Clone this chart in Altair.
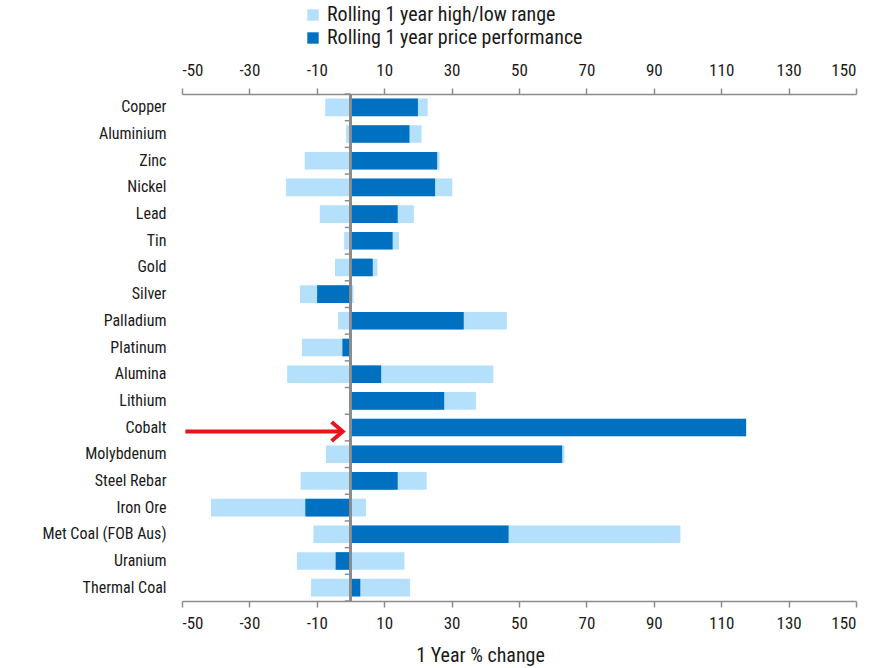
import altair as alt
import pandas as pd

commodities = ["Copper", "Aluminium", "Zinc", "Nickel", "Lead", "Tin", "Gold", "Silver",
               "Palladium", "Platinum", "Alumina", "Lithium", "Cobalt", "Molybdenum",
               "Steel Rebar", "Iron Ore", "Met Coal (FOB Aus)", "Uranium", "Thermal Coal"]
range_low = [-7.5, -1.3, -13.6, -19.1, -9.1, -1.9, -4.6, -15.0, -3.7, -14.4,
             -18.8, 0.0, 0.0, -7.3, -14.8, -41.4, -11.0, -15.9, -11.7]
range_high = [22.9, 21.1, 26.4, 30.2, 18.8, 14.4, 8.0, 0.9, 46.4, 0.0,
              42.4, 37.2, 117.4, 63.5, 22.6, 4.6, 97.9, 16.0, 17.7]
performance = [20.0, 17.5, 25.7, 25.1, 14.0, 12.5, 6.6, -9.9, 33.6, -2.4,
               9.1, 27.8, 117.4, 62.8, 14.0, -13.4, 46.9, -4.4, 2.9]
x_ticks = [-50, -30, -10, 10, 30, 50, 70, 90, 110, 130, 150]
series = ["Rolling 1 year high/low range", "Rolling 1 year price performance"]
colors = ["#B4E0FC", "#0070C0"]

FONT = "Liberation Sans Narrow, Roboto Condensed, Arial Narrow, sans-serif"

df = pd.DataFrame({
    "commodity": commodities,
    "low": range_low,
    "high": range_high,
    "perf": performance,
    "zero": [0.0] * len(commodities),
})
df_range = df.assign(series=series[0])
df_perf = df.assign(series=series[1])

xscale = alt.Scale(domain=[-50, 150], nice=False, zero=False)
yscale = alt.Scale(domain=commodities, paddingInner=0, paddingOuter=0)
cscale = alt.Scale(domain=series, range=colors)

axis_common = dict(values=x_ticks, grid=False, domainColor="#8c8c8c", tickColor="#8c8c8c",
                   tickSize=6, labelFont=FONT, labelFontSize=17, labelColor="#1a1a1a",
                   domainWidth=1.5, tickWidth=1.5,
                   labelExpr="toString(datum.value)")

legend = alt.Legend(title=None, orient="none", legendX=121, legendY=-89,
                    symbolType="square", symbolSize=130, symbolStrokeWidth=0,
                    labelFont=FONT, labelFontSize=20, labelColor="#1a1a1a",
                    labelOffset=4, rowPadding=3, padding=0, labelLimit=500)

light = alt.Chart(df_range).mark_bar(height=alt.RelativeBandSize(0.66)).encode(
    y=alt.Y("commodity:N", sort=commodities, scale=yscale, title=None,
            axis=alt.Axis(domain=False, ticks=False, labelFont=FONT, labelFontSize=16,
                          labelColor="#1a1a1a", labelPadding=16, labelLimit=300)),
    x=alt.X("low:Q", scale=xscale,
            axis=alt.Axis(orient="bottom", title="1 Year % change", titleFont=FONT,
                          titleFontSize=20, titleFontWeight="normal", titleColor="#1a1a1a",
                          titleX=298, titleY=44, labelPadding=8, **axis_common)),
    x2="high:Q",
    color=alt.Color("series:N", scale=cscale, legend=legend),
)

dark = alt.Chart(df_perf).mark_bar(height=alt.RelativeBandSize(0.66)).encode(
    y=alt.Y("commodity:N", sort=commodities, scale=yscale, axis=None),
    x=alt.X("zero:Q", scale=xscale,
            axis=alt.Axis(orient="top", title=None, labelPadding=9, **axis_common)),
    x2="perf:Q",
    color=alt.Color("series:N", scale=cscale, legend=legend),
)

zero_line = alt.Chart(df).mark_rule(color="#8c8c8c", strokeWidth=1.5).encode(
    x=alt.X("zero:Q", scale=xscale, axis=None),
)

cat_ticks = alt.Chart(df).transform_calculate(tick_start="-1.7").mark_rule(
    color="#8c8c8c", strokeWidth=1.5).encode(
    y=alt.Y("commodity:N", sort=commodities, scale=yscale, axis=None, bandPosition=0),
    x=alt.X("tick_start:Q", scale=xscale, axis=None),
    x2="zero:Q",
)

last_tick = alt.Chart(df).transform_filter(
    alt.datum.commodity == commodities[-1]
).transform_calculate(tick_start="-1.7").mark_rule(
    color="#8c8c8c", strokeWidth=1.5).encode(
    y=alt.Y("commodity:N", sort=commodities, scale=yscale, axis=None, bandPosition=1),
    x=alt.X("tick_start:Q", scale=xscale, axis=None),
    x2="zero:Q",
)

df_arrow = pd.DataFrame({"commodity": ["Cobalt"], "start": [-49.0], "end": [-3.0], "tip": [-2.3]})
arrow_line = alt.Chart(df_arrow).mark_rule(color="#E8141B", strokeWidth=4, yOffset=4).encode(
    y=alt.Y("commodity:N", sort=commodities, scale=yscale, axis=None),
    x=alt.X("start:Q", scale=xscale, axis=None),
    x2="end:Q",
)
arrow_head = alt.Chart(df_arrow).mark_point(
    shape="M-1,-0.85L0,0L-1,0.85", filled=False, color="#E8141B", strokeWidth=4,
    size=500, opacity=1, yOffset=4, strokeJoin="miter").encode(
    y=alt.Y("commodity:N", sort=commodities, scale=yscale, axis=None),
    x=alt.X("tip:Q", scale=xscale, axis=None),
)

chart = alt.layer(light, dark, zero_line, cat_ticks, last_tick, arrow_line, arrow_head).resolve_axis(
    x="independent", y="independent"
).properties(
    width=674, height=507,
    autosize=alt.AutoSizeParams(type="none"),
    padding={"left": 182, "top": 94, "right": 19, "bottom": 67},
).configure_view(stroke=None)

chart.save("out.html", embed_options={"renderer": "svg", "actions": False})
